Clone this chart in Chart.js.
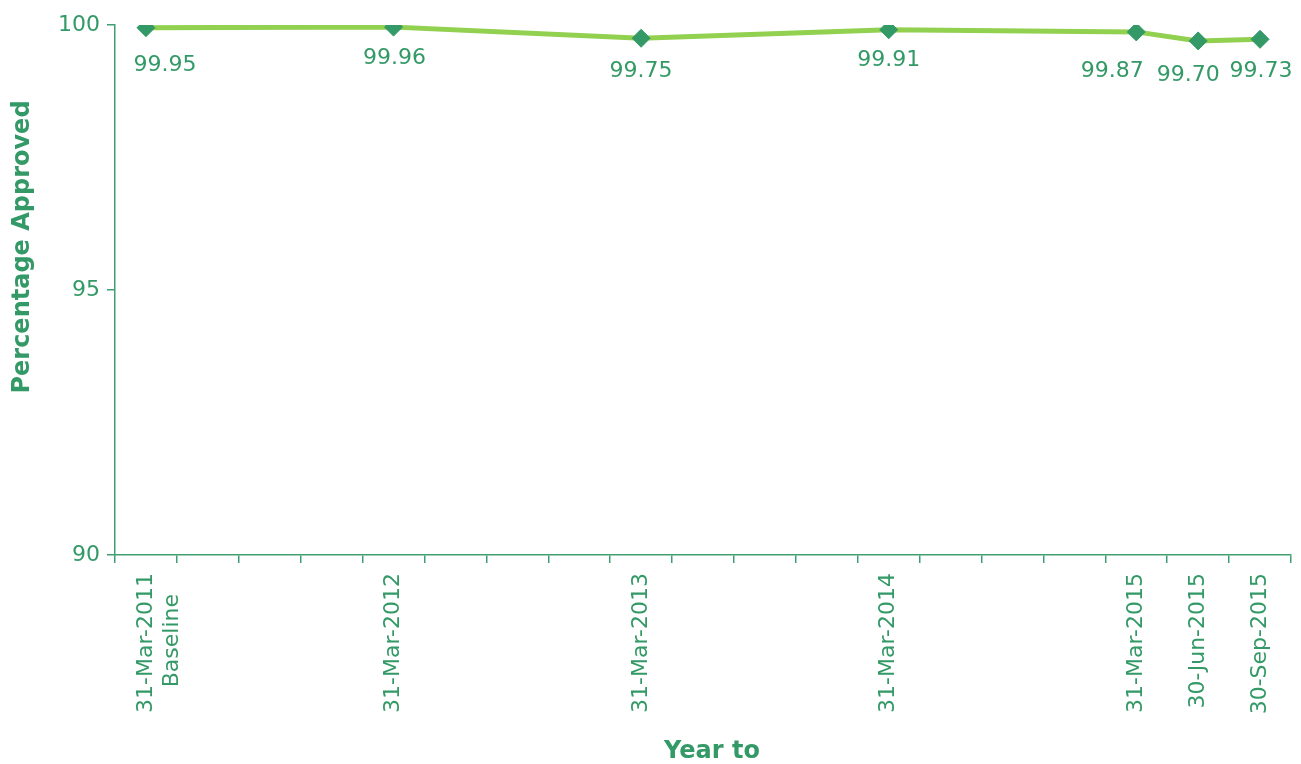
<!DOCTYPE html>
<html>
<head>
<meta charset="utf-8">
<script src="https://cdn.jsdelivr.net/npm/chart.js@4/dist/chart.umd.min.js"></script>
<style>
  html, body { margin: 0; padding: 0; background: #fff; }
  #wrap { width: 1301px; height: 764px; }
</style>
</head>
<body>
<div id="wrap"><canvas id="approvedChart" width="1301" height="764"></canvas></div>
<script>
// quarters from the baseline year to Sep 2015; only the year-end points and the last two quarters have values
const QUARTERS = [
  "31-Mar-2011", "30-Jun-2011", "30-Sep-2011", "31-Dec-2011",
  "31-Mar-2012", "30-Jun-2012", "30-Sep-2012", "31-Dec-2012",
  "31-Mar-2013", "30-Jun-2013", "30-Sep-2013", "31-Dec-2013",
  "31-Mar-2014", "30-Jun-2014", "30-Sep-2014", "31-Dec-2014",
  "31-Mar-2015", "30-Jun-2015", "30-Sep-2015",
];
const PCT_APPROVED = [
  99.95, null, null, null,
  99.96, null, null, null,
  99.75, null, null, null,
  99.91, null, null, null,
  99.87, 99.70, 99.73,
];
const BASELINE_NOTE = "Baseline   "; // trailing spaces keep it centred under the rotated date
const Y_TICKS = [90, 95, 100];

const GREEN_TEXT = "#339966";
const GREEN_AXIS = "#3f9f70";
const GREEN_LINE = "#92d050";
const GREEN_MARK = "#339966";
const FONT = "'DejaVu Sans', Verdana, sans-serif";

// where each value label sits relative to its point (Excel nudged the crowded ones)
const LABEL_NUDGE = {
  0: [19, 38], 4: [1, 31], 8: [0, 33], 12: [0, 31],
  16: [-24, 39], 17: [-10, 34], 18: [1, 32],
};

const valueLabels = {
  id: "valueLabels",
  afterDatasetsDraw(chart) {
    const ctx = chart.ctx;
    const meta = chart.getDatasetMeta(0);
    ctx.save();
    ctx.font = `22px ${FONT}`;
    ctx.fillStyle = GREEN_TEXT;
    ctx.textAlign = "center";
    ctx.textBaseline = "middle";
    PCT_APPROVED.forEach((v, i) => {
      if (v == null) return;
      const pt = meta.data[i];
      const [dx, dy] = LABEL_NUDGE[i] || [0, 33];
      ctx.fillText(v.toFixed(2), pt.x + dx, pt.y + dy);
    });
    ctx.restore();
  },
};

// axis titles drawn by hand so they land where the original has them
const axisTitles = {
  id: "axisTitles",
  afterDraw(chart) {
    const ctx = chart.ctx;
    ctx.save();
    ctx.font = `bold 24px ${FONT}`;
    ctx.fillStyle = GREEN_TEXT;
    ctx.textAlign = "center";
    ctx.textBaseline = "middle";
    ctx.fillText("Year to", 712, 752);
    ctx.translate(23, 247);
    ctx.rotate(-Math.PI / 2);
    ctx.fillText("Percentage Approved", 0, 0);
    ctx.restore();
  },
};

new Chart(document.getElementById("approvedChart"), {
  type: "line",
  data: {
    labels: QUARTERS,
    datasets: [{
      label: "Percentage Approved",
      data: PCT_APPROVED,
      spanGaps: true,
      borderColor: GREEN_LINE,
      borderWidth: 5,
      tension: 0,
      pointStyle: "rectRot",
      pointRadius: 9,
      pointBackgroundColor: GREEN_MARK,
      pointBorderColor: GREEN_MARK,
      pointBorderWidth: 1,
    }],
  },
  options: {
    responsive: false,
    animation: false,
    layout: { padding: { top: 25, right: 10, bottom: 0, left: 0 } },
    plugins: { legend: { display: false }, tooltip: { enabled: false } },
    scales: {
      x: {
        offset: true,
        grid: { offset: true, drawOnChartArea: false, drawTicks: true, tickLength: 8, color: GREEN_AXIS, lineWidth: 1.5 },
        border: { color: GREEN_AXIS, width: 1.5 },
        ticks: {
          autoSkip: false,
          minRotation: 90,
          maxRotation: 90,
          padding: 10,
          color: GREEN_TEXT,
          font: { family: FONT, size: 22 },
          callback: (val, i) => {
            if (PCT_APPROVED[i] == null) return "";
            return i === 0 ? [QUARTERS[i], BASELINE_NOTE] : QUARTERS[i];
          },
        },
        afterFit: (scale) => { scale.height = 209; },
      },
      y: {
        min: 90,
        max: 100,
        afterBuildTicks: (scale) => { scale.ticks = Y_TICKS.map((v) => ({ value: v })); },
        grid: { drawOnChartArea: false, drawTicks: true, tickLength: 8, color: GREEN_AXIS, lineWidth: 1.5 },
        border: { color: GREEN_AXIS, width: 1.5 },
        ticks: { padding: 7, color: GREEN_TEXT, font: { family: FONT, size: 22 } },
        afterFit: (scale) => { scale.width = 115; },
      },
    },
  },
  plugins: [valueLabels, axisTitles],
});
</script>
</body>
</html>
